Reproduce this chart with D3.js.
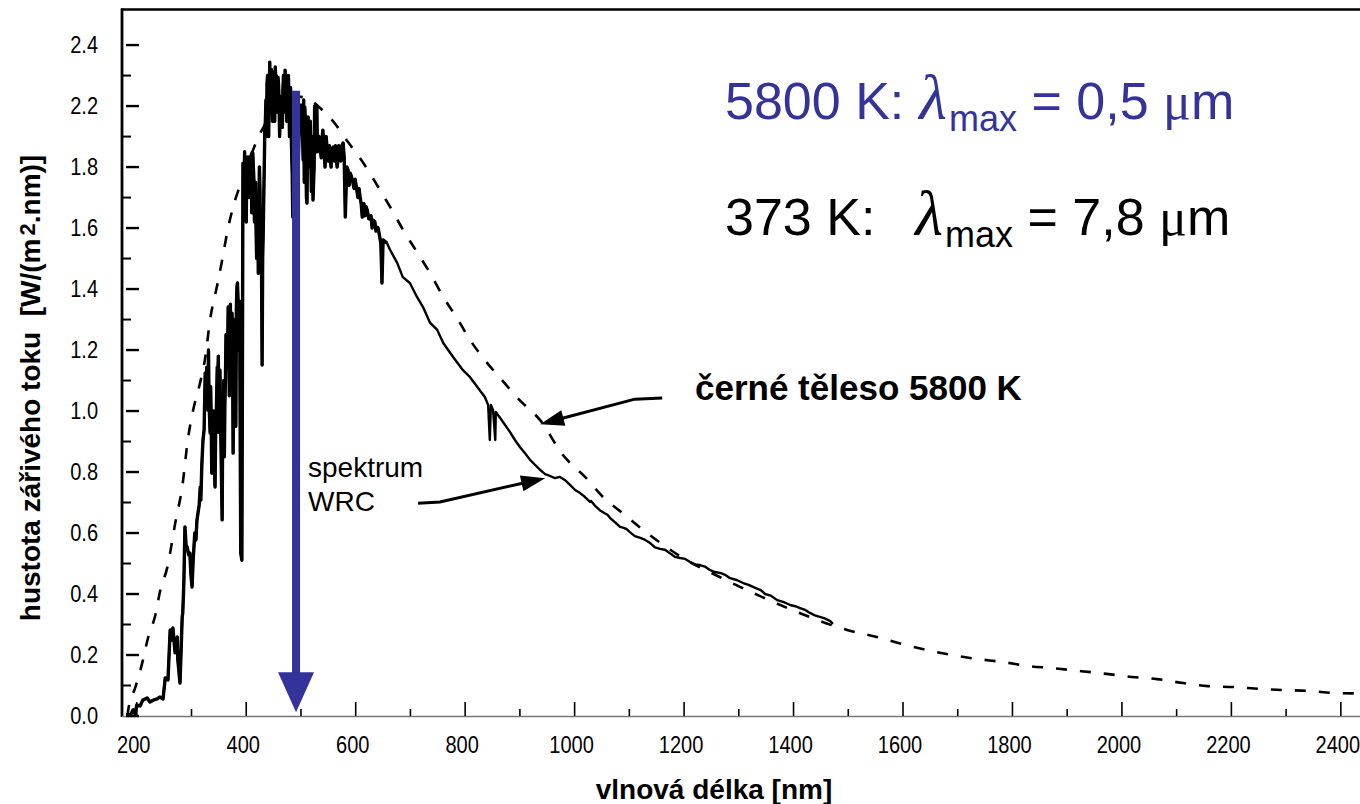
<!DOCTYPE html>
<html>
<head>
<meta charset="utf-8">
<script src="https://cdn.jsdelivr.net/npm/d3@7"></script>
<style>
  body { margin: 0; background: #fff; }
  svg { display: block; font-family: "Liberation Sans", Arial, sans-serif; }
</style>
</head>
<body>
<div id="chart"></div>
<script>
// axis ticks (the reference labels the two top ticks 2.2 / 2.4)
var xTicksMajor = [200, 400, 600, 800, 1000, 1200, 1400, 1600, 1800, 2000, 2200, 2400];
var xTicksMinor = [300, 500, 700, 900, 1100, 1300, 1500, 1700, 1900, 2100, 2300];
var yTicks = [0, 0.2, 0.4, 0.6, 0.8, 1.0, 1.2, 1.4, 1.6, 1.8, 2.0, 2.2];
var yTickLabels = ["0.0", "0.2", "0.4", "0.6", "0.8", "1.0", "1.2", "1.4", "1.6", "1.8", "2.2", "2.4"];
var yTicksMinor = [0.1, 0.3, 0.5, 0.7, 0.9, 1.1, 1.3, 1.5, 1.7, 1.9, 2.1];

// black body 5800 K (dashed), [nm, W/(m2.nm)]
var blackbody = [
  [183, 0.0], [185, 0.026], [197, 0.092], [210, 0.174], [221, 0.259], [234, 0.331],
  [243, 0.413], [256, 0.489], [265, 0.577], [270, 0.63], [283, 0.751], [294, 0.915],
  [303, 1.003], [316, 1.095], [325, 1.174], [334, 1.30], [347, 1.413], [356, 1.495],
  [365, 1.584], [376, 1.669], [389, 1.741], [405, 1.82], [422, 1.898], [438, 1.95],
  [460, 2.0], [480, 2.025], [499, 2.03], [517, 2.02], [540, 1.985], [557, 1.954],
  [586, 1.882], [614, 1.813], [639, 1.741], [663, 1.669], [687, 1.593], [712, 1.521],
  [736, 1.452], [760, 1.374], [785, 1.305], [809, 1.233], [836, 1.167], [864, 1.108],
  [900, 1.035], [937, 0.97], [979, 0.855], [1019, 0.784], [1052, 0.718], [1087, 0.666],
  [1125, 0.610], [1162, 0.561], [1198, 0.518], [1266, 0.455], [1339, 0.393], [1412, 0.337],
  [1498, 0.282], [1552, 0.259], [1598, 0.236], [1644, 0.216], [1689, 0.20], [1736, 0.187],
  [1782, 0.177], [1828, 0.164], [1873, 0.157], [1921, 0.148], [1972, 0.138], [2018, 0.128],
  [2064, 0.121], [2112, 0.108], [2157, 0.098], [2203, 0.095], [2252, 0.089], [2298, 0.085],
  [2343, 0.082], [2393, 0.075], [2435, 0.074]
];

// measured spectrum WRC, [nm, W/(m2.nm)]
var spectrum = [
  [182, 0.01], [188, 0.0], [193, 0.02], [197, 0.007], [200, 0.036], [206, 0.033], [211, 0.052],
  [219, 0.059], [224, 0.046], [230, 0.052], [237, 0.056], [242, 0.062], [248, 0.056], [252, 0.125],
  [257, 0.118], [261, 0.282], [264, 0.249], [266, 0.289], [270, 0.207], [272, 0.249], [274, 0.259],
  [275, 0.184], [279, 0.108], [281, 0.216], [283, 0.325], [284, 0.338], [286, 0.436], [288, 0.62],
  [290, 0.561], [292, 0.554], [295, 0.528], [297, 0.534], [299, 0.462], [301, 0.423], [303, 0.511],
  [306, 0.6], [308, 0.577], [310, 0.643], [314, 0.692], [316, 0.751], [317, 0.708], [319, 0.83],
  [321, 0.905], [323, 0.938], [325, 1.125], [327, 1.069], [328, 1.144], [330, 1.003], [332, 1.036],
  [334, 0.928], [336, 0.97], [337, 0.797], [339, 0.905], [341, 0.839], [343, 0.751], [345, 0.97],
  [347, 1.144], [348, 1.11], [352, 1.134], [354, 0.872], [356, 0.643], [358, 0.895], [361, 1.03],
  [365, 1.144], [367, 1.341], [370, 1.266], [374, 1.321], [376, 0.862], [380, 1.111], [381, 0.95],
  [383, 1.407], [385, 1.364], [387, 1.298], [389, 0.9], [390, 0.534], [392, 0.511], [393, 1.1],
  [394, 1.813], [398, 1.79], [403, 1.833], [407, 1.807], [411, 1.849], [412, 1.846], [414, 1.757],
  [416, 1.692], [418, 1.593], [420, 1.538], [422, 1.452], [423, 1.626], [425, 1.734], [427, 1.6],
  [429, 1.151], [431, 1.584], [433, 1.807], [434, 1.931], [436, 2.02], [438, 2.075], [440, 1.997],
  [442, 2.052], [443, 2.144], [445, 2.085], [447, 2.108], [449, 1.964], [451, 2.052], [453, 2.128],
  [454, 2.085], [456, 2.062], [458, 2.095], [460, 2.02], [462, 1.964], [463, 2.03], [467, 2.052],
  [469, 2.085], [471, 2.118], [473, 2.069], [475, 2.095], [476, 1.964], [478, 2.03], [480, 2.052],
  [482, 1.921], [484, 1.78], [485, 1.636], [487, 1.85], [490, 1.9], [494, 1.75], [498, 2.003],
  [502, 2.003], [504, 1.823], [507, 1.997], [511, 1.682], [513, 1.964], [520, 1.898], [522, 1.692],
  [526, 1.964], [529, 1.997], [531, 1.898], [535, 1.866], [540, 1.921], [548, 1.856], [553, 1.833],
  [559, 1.866], [566, 1.8], [571, 1.856], [577, 1.879], [581, 1.636], [584, 1.8], [590, 1.78],
  [595, 1.748], [602, 1.725], [608, 1.702], [612, 1.636], [613, 1.669], [621, 1.659], [626, 1.636],
  [632, 1.626], [639, 1.603], [644, 1.57], [648, 1.42], [650, 1.561], [657, 1.551], [663, 1.528],
  [676, 1.485], [686, 1.439], [699, 1.42], [712, 1.374], [723, 1.341], [736, 1.289], [749, 1.266],
  [760, 1.223], [778, 1.177], [796, 1.134], [809, 1.111], [824, 1.075], [836, 1.046], [842, 1.02],
  [845, 0.905], [847, 1.02], [851, 1.003], [855, 0.905], [856, 0.997], [864, 0.977], [873, 0.954],
  [882, 0.931], [891, 0.905], [900, 0.882], [909, 0.862], [919, 0.839], [928, 0.823], [937, 0.807],
  [946, 0.793], [955, 0.787], [964, 0.78], [973, 0.784], [982, 0.774], [992, 0.757], [1001, 0.741],
  [1010, 0.731], [1019, 0.718], [1028, 0.702], [1046, 0.675], [1065, 0.649], [1083, 0.62],
  [1101, 0.603], [1120, 0.584], [1138, 0.567], [1156, 0.548], [1174, 0.534], [1193, 0.518],
  [1211, 0.505], [1229, 0.495], [1247, 0.479], [1266, 0.469], [1284, 0.452], [1308, 0.436],
  [1330, 0.42], [1348, 0.4], [1370, 0.38], [1394, 0.364], [1412, 0.354], [1430, 0.338],
  [1448, 0.325], [1467, 0.311], [1472, 0.302]
];

// extra absorption lines / noise read in the dense parts of the spectrum
var spectrumDetail = [
  [331, 1.2], [333, 0.98], [335, 1.08], [338, 0.9], [340, 1.0], [342, 0.8], [344, 0.92], [346, 1.05],
  [349, 1.18], [350, 0.93], [351, 1.12], [353, 0.98], [355, 0.75], [357, 0.98], [359, 1.1], [360, 0.85],
  [362, 1.1], [363, 1.25], [366, 1.2], [368, 1.3], [369, 1.05], [371, 1.35], [372, 1.1], [373, 1.3],
  [375, 1.2], [377, 1.05], [378, 1.3], [379, 1.15], [382, 1.34], [384, 1.42], [386, 1.2], [388, 1.36],
  [396, 1.68], [397, 1.85], [400, 1.62], [401, 1.82], [405, 1.7], [409, 1.84], [410, 1.65], [413, 1.8],
  [415, 1.62], [417, 1.75], [419, 1.5], [421, 1.7], [424, 1.8], [426, 1.55], [428, 1.45], [430, 1.5],
  [432, 1.7], [435, 1.95], [437, 1.9], [439, 2.1], [441, 1.9], [444, 2.0], [446, 2.12], [448, 1.95],
  [450, 2.1], [452, 1.95], [455, 2.1], [457, 1.98], [459, 2.07], [461, 1.9], [464, 2.0], [466, 1.93],
  [468, 2.1], [470, 1.98], [472, 2.1], [474, 1.95], [477, 2.1], [479, 1.9], [481, 2.06], [483, 1.85],
  [503, 1.9], [505, 2.02], [506, 1.75], [508, 1.95], [510, 1.7], [512, 1.9], [515, 1.8], [517, 1.95],
  [519, 1.72], [521, 1.9], [524, 1.8], [525, 2.0], [527, 1.85], [528, 1.99], [530, 1.85], [533, 1.9],
  [537, 1.83], [539, 1.9], [542, 1.86], [544, 1.8], [546, 1.9], [550, 1.82], [552, 1.87], [555, 1.8],
  [557, 1.86], [561, 1.82], [563, 1.87], [568, 1.83], [569, 1.87], [573, 1.82], [575, 1.87], [579, 1.83],
  [583, 1.76], [586, 1.79], [588, 1.74], [592, 1.77], [597, 1.73], [599, 1.76], [604, 1.7], [606, 1.73],
  [610, 1.68], [615, 1.68], [617, 1.64], [619, 1.67], [624, 1.63], [628, 1.64], [630, 1.6], [635, 1.62],
  [637, 1.59], [641, 1.6], [646, 1.55],
  [1030, 0.705], [1037, 0.69], [1055, 0.665], [1060, 0.66], [1074, 0.635], [1090, 0.617], [1095, 0.613],
  [1110, 0.59], [1128, 0.578], [1147, 0.553], [1165, 0.545], [1183, 0.522], [1202, 0.515], [1220, 0.497],
  [1238, 0.49], [1256, 0.472], [1275, 0.463], [1296, 0.446], [1318, 0.43], [1340, 0.413], [1358, 0.395],
  [1381, 0.374], [1403, 0.36], [1421, 0.348], [1439, 0.33], [1457, 0.32]
];

// wavelength of max (blue arrow) and the two pointer arrows, in data units
var peakArrow = {nm: 491, top: 2.05, tip: 0.012};
var bbPointer = [[1160, 1.043], [1110, 1.039], [937, 0.957]];
var wrcPointer = [[714, 0.698], [754, 0.702], [946, 0.78]];

var blue = "#333399";
var W = 1360, H = 804;

var x = d3.scaleLinear().domain([173, 2435]).range([122, 1360]);
var y = d3.scaleLinear().domain([0, 2.315]).range([716, 10]);

var svg = d3.select("#chart").append("svg")
    .attr("width", W)
    .attr("height", H);

svg.append("clipPath").attr("id", "plot")
  .append("rect").attr("x", 122).attr("y", 10).attr("width", W - 122).attr("height", 706);

var line = d3.line()
    .x(function(d) { return x(d[0]); })
    .y(function(d) { return y(d[1]); });

var plot = svg.append("g").attr("clip-path", "url(#plot)");

plot.append("path")
    .datum(blackbody)
    .attr("d", line.curve(d3.curveMonotoneX))
    .attr("fill", "none")
    .attr("stroke", "#000")
    .attr("stroke-width", 2.6)
    .attr("stroke-dasharray", "11,13");

var spec = d3.sort(spectrum.concat(spectrumDetail), function(d) { return d[0]; });
line.curve(d3.curveLinear);

plot.append("path")
    .datum(spec)
    .attr("d", line)
    .attr("fill", "none")
    .attr("stroke", "#000")
    .attr("stroke-width", 2.4)
    .attr("stroke-linejoin", "round");

// the UV / visible part is printed much heavier in the reference
plot.append("path")
    .datum(spec.filter(function(d) { return d[0] < 660; }))
    .attr("d", line)
    .attr("fill", "none")
    .attr("stroke", "#000")
    .attr("stroke-width", 3.4)
    .attr("stroke-linejoin", "round");

// blue arrow at lambda max
var ax = x(peakArrow.nm), headLen = 40, headW = 18;
svg.append("line")
    .attr("x1", ax).attr("x2", ax)
    .attr("y1", y(peakArrow.top)).attr("y2", y(peakArrow.tip) - headLen + 2)
    .attr("stroke", blue).attr("stroke-width", 8);
svg.append("path")
    .attr("d", "M" + (ax - headW) + "," + (y(peakArrow.tip) - headLen) +
               "L" + (ax + headW) + "," + (y(peakArrow.tip) - headLen) +
               "L" + ax + "," + y(peakArrow.tip) + "Z")
    .attr("fill", blue);

// frame
svg.append("line").attr("x1", 121).attr("x2", W).attr("y1", 9.5).attr("y2", 9.5)
    .attr("stroke", "#000").attr("stroke-width", 2.4);
svg.append("line").attr("x1", 122).attr("x2", 122).attr("y1", 8.5).attr("y2", 717)
    .attr("stroke", "#000").attr("stroke-width", 2.8);
svg.append("line").attr("x1", 122).attr("x2", W).attr("y1", 716.5).attr("y2", 716.5)
    .attr("stroke", "#777").attr("stroke-width", 1.6);

// x ticks
svg.selectAll(".xmaj").data(xTicksMajor).enter().append("line")
    .attr("x1", function(d) { return x(d); }).attr("x2", function(d) { return x(d); })
    .attr("y1", 716).attr("y2", 702)
    .attr("stroke", "#000").attr("stroke-width", 1.6);
svg.selectAll(".xmin").data(xTicksMinor).enter().append("line")
    .attr("x1", function(d) { return x(d); }).attr("x2", function(d) { return x(d); })
    .attr("y1", 716).attr("y2", 709)
    .attr("stroke", "#000").attr("stroke-width", 1.6);

// y ticks
svg.selectAll(".ymaj").data(yTicks).enter().append("line")
    .attr("x1", 126).attr("x2", 139)
    .attr("y1", function(d) { return y(d); }).attr("y2", function(d) { return y(d); })
    .attr("stroke", "#000").attr("stroke-width", 2.4);
svg.selectAll(".ymin").data(yTicksMinor).enter().append("line")
    .attr("x1", 123).attr("x2", 131)
    .attr("y1", function(d) { return y(d); }).attr("y2", function(d) { return y(d); })
    .attr("stroke", "#000").attr("stroke-width", 2);

// tick labels (narrow face)
svg.selectAll(".xlab").data(xTicksMajor).enter().append("text")
    .attr("transform", function(d) { return "translate(" + (x(d) - 3) + ",753) scale(0.87,1)"; })
    .attr("text-anchor", "middle")
    .attr("font-size", 23)
    .text(function(d) { return d; });
svg.selectAll(".ylab").data(yTicks).enter().append("text")
    .attr("transform", function(d) { return "translate(98," + (y(d) + 8) + ") scale(0.87,1)"; })
    .attr("text-anchor", "end")
    .attr("font-size", 23)
    .text(function(d, i) { return yTickLabels[i]; });

// axis titles
svg.append("text")
    .attr("x", 714).attr("y", 799)
    .attr("text-anchor", "middle")
    .attr("font-size", 28).attr("font-weight", "bold")
    .text("vlnová délka [nm]");

var yt = svg.append("text")
    .attr("transform", "translate(40,388) rotate(-90)")
    .attr("text-anchor", "middle")
    .attr("font-size", 28).attr("font-weight", "bold")
    .style("white-space", "pre");
yt.append("tspan").text("hustota zářivého toku  [W/(m");
yt.append("tspan").attr("font-size", 22).attr("dy", -5).attr("dx", 3).text("2");
yt.append("tspan").attr("dy", 5).text(".nm)]");

// lambda max texts
function lambdaLine(ty, color, head, gap, value) {
  var t = svg.append("text")
      .attr("x", 725).attr("y", ty)
      .attr("fill", color)
      .attr("font-size", 52)
      .style("white-space", "pre");
  t.append("tspan").text(head);
  t.append("tspan").attr("dx", gap)
      .attr("font-family", "'Liberation Serif', 'Times New Roman', serif")
      .attr("font-style", "italic").attr("font-size", 64).text("λ");
  t.append("tspan").attr("font-size", 36).attr("dy", 12).attr("dx", 2).text("max");
  t.append("tspan").attr("dy", -12).text(" = " + value + " ");
  t.append("tspan").attr("font-family", "'Liberation Serif', 'Times New Roman', serif").text("μ");
  t.append("tspan").text("m");
}
lambdaLine(119, blue, "5800 K:", 15, "0,5");
lambdaLine(235, "#000", "373 K:", 40, "7,8");

// pointer annotations
svg.append("text")
    .attr("x", 695).attr("y", 400)
    .attr("font-size", 35).attr("font-weight", "bold")
    .text("černé těleso 5800 K");
svg.append("text").attr("x", 308).attr("y", 477).attr("font-size", 28).text("spektrum");
svg.append("text").attr("x", 308).attr("y", 511).attr("font-size", 28).text("WRC");

function pointer(pts) {
  var p = pts.map(function(d) { return [x(d[0]), y(d[1])]; });
  var tip = p[p.length - 1], prev = p[p.length - 2];
  var dx = tip[0] - prev[0], dy = tip[1] - prev[1], len = Math.sqrt(dx * dx + dy * dy);
  var ux = dx / len, uy = dy / len, hl = 24, hw = 8;
  var bx = tip[0] - ux * hl, by = tip[1] - uy * hl;
  var shaft = p.slice(0, p.length - 1).concat([[bx + ux * 2, by + uy * 2]]);
  svg.append("path")
      .attr("d", d3.line()(shaft))
      .attr("fill", "none").attr("stroke", "#000").attr("stroke-width", 3);
  svg.append("path")
      .attr("d", "M" + tip[0] + "," + tip[1] +
                 "L" + (bx - uy * hw) + "," + (by + ux * hw) +
                 "L" + (bx + uy * hw) + "," + (by - ux * hw) + "Z")
      .attr("fill", "#000");
}
pointer(bbPointer);
pointer(wrcPointer);
</script>
</body>
</html>
